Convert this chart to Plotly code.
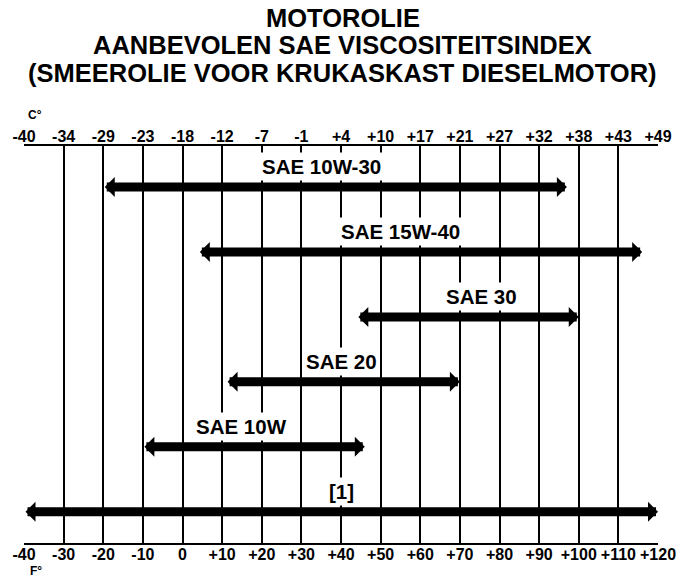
import plotly.graph_objects as go

# Recommended temperature ranges per oil grade (degrees Fahrenheit)
grades = ["SAE 10W-30", "SAE 15W-40", "SAE 30", "SAE 20", "SAE 10W", "[1]"]
f_low = [-20, 4, 44, 11, -10, -40]
f_high = [97, 116, 100, 70, 46, 120]

# Axis ticks: Fahrenheit below, Celsius equivalents above
f_ticks = list(range(-40, 121, 10))
f_labels = ["-40", "-30", "-20", "-10", "0", "+10", "+20", "+30", "+40", "+50",
            "+60", "+70", "+80", "+90", "+100", "+110", "+120"]
c_labels = ["-40", "-34", "-29", "-23", "-18", "-12", "-7", "-1", "+4", "+10",
            "+17", "+21", "+27", "+32", "+38", "+43", "+49"]

# Where each grade name sits along the scale (degrees F)
label_x = [35, 55, 75.5, 40, 15, 40]

title_lines = ["MOTOROLIE", "AANBEVOLEN SAE VISCOSITEITSINDEX",
               "(SMEEROLIE VOOR KRUKASKAST DIESELMOTOR)"]

FONT = "Liberation Sans, Arial, Helvetica, sans-serif"

W, H = 688, 578
plot_left, plot_right = 24, 660
plot_top, plot_bottom = 146, 543
pw = plot_right - plot_left
ph = plot_bottom - plot_top


def px_to_paper(xpix, ypix):
    return (xpix - plot_left) / pw, (plot_bottom - ypix) / ph


fig = go.Figure()
# invisible traces so both x axes are laid out
fig.add_trace(go.Scatter(x=[-40, 120], y=[0, 0], mode="markers",
                         marker=dict(opacity=0), hoverinfo="skip", showlegend=False))
fig.add_trace(go.Scatter(x=[-40, 120], y=[0, 0], mode="markers", xaxis="x2",
                         marker=dict(opacity=0), hoverinfo="skip", showlegend=False))

annotations = []
for row, (name, lo, hi, lx) in enumerate(zip(grades, f_low, f_high, label_x)):
    # double-headed range arrow
    annotations.append(dict(
        x=hi, y=row, ax=lo, ay=row, xref="x", yref="y", axref="x", ayref="y",
        text="", showarrow=True, arrowside="end+start",
        arrowhead=1, startarrowhead=1, arrowsize=0.37, startarrowsize=0.37,
        arrowwidth=9, arrowcolor="black", standoff=0, startstandoff=0,
    ))
    # grade name on a white box above the arrow
    annotations.append(dict(
        x=lx, y=row - 0.31, xref="x", yref="y", text=name, showarrow=False,
        xanchor="center", yanchor="middle",
        font=dict(family=FONT, size=20.5, color="black", weight="bold"),
        bgcolor="white", borderpad=2,
    ))

# three-line heading
for i, line in enumerate(title_lines):
    tx, ty = px_to_paper(W / 2, 18 + 27.5 * i)
    annotations.append(dict(
        x=tx, y=ty, xref="paper", yref="paper", text=line, showarrow=False,
        xanchor="center", yanchor="middle",
        font=dict(family=FONT, size=25.5, color="black", weight="bold"),
    ))

# unit markers
for unit, (ux, uy) in (("C°", (35, 115)), ("F°", (36, 571))):
    px_, py_ = px_to_paper(ux, uy)
    annotations.append(dict(x=px_, y=py_, xref="paper", yref="paper", text=unit,
                            showarrow=False, xanchor="center", yanchor="middle",
                            font=dict(family=FONT, size=12, color="black", weight="bold")))

tickfont = dict(family=FONT, size=16, color="black", weight="bold")
fig.update_layout(
    width=W, height=H,
    margin=dict(l=plot_left, r=W - plot_right, t=plot_top, b=H - plot_bottom),
    paper_bgcolor="white", plot_bgcolor="white",
    showlegend=False,
    xaxis=dict(range=[-40, 120], tickmode="array", tickvals=f_ticks, ticktext=f_labels,
               showgrid=True, gridcolor="black", gridwidth=1.5, zeroline=False,
               showline=True, linecolor="black", linewidth=1.5, mirror=True,
               ticks="", tickfont=tickfont, ticklabelstandoff=-4, fixedrange=True),
    xaxis2=dict(range=[-40, 120], overlaying="x", side="top", tickmode="array",
                tickvals=f_ticks, ticktext=c_labels, showgrid=False, zeroline=False,
                showline=False, ticks="", tickfont=tickfont, fixedrange=True),
    yaxis=dict(range=[5.48, -0.63], showgrid=False, zeroline=False, showticklabels=False,
               ticks="", fixedrange=True),
    annotations=annotations,
)

fig.write_html("out.html")
